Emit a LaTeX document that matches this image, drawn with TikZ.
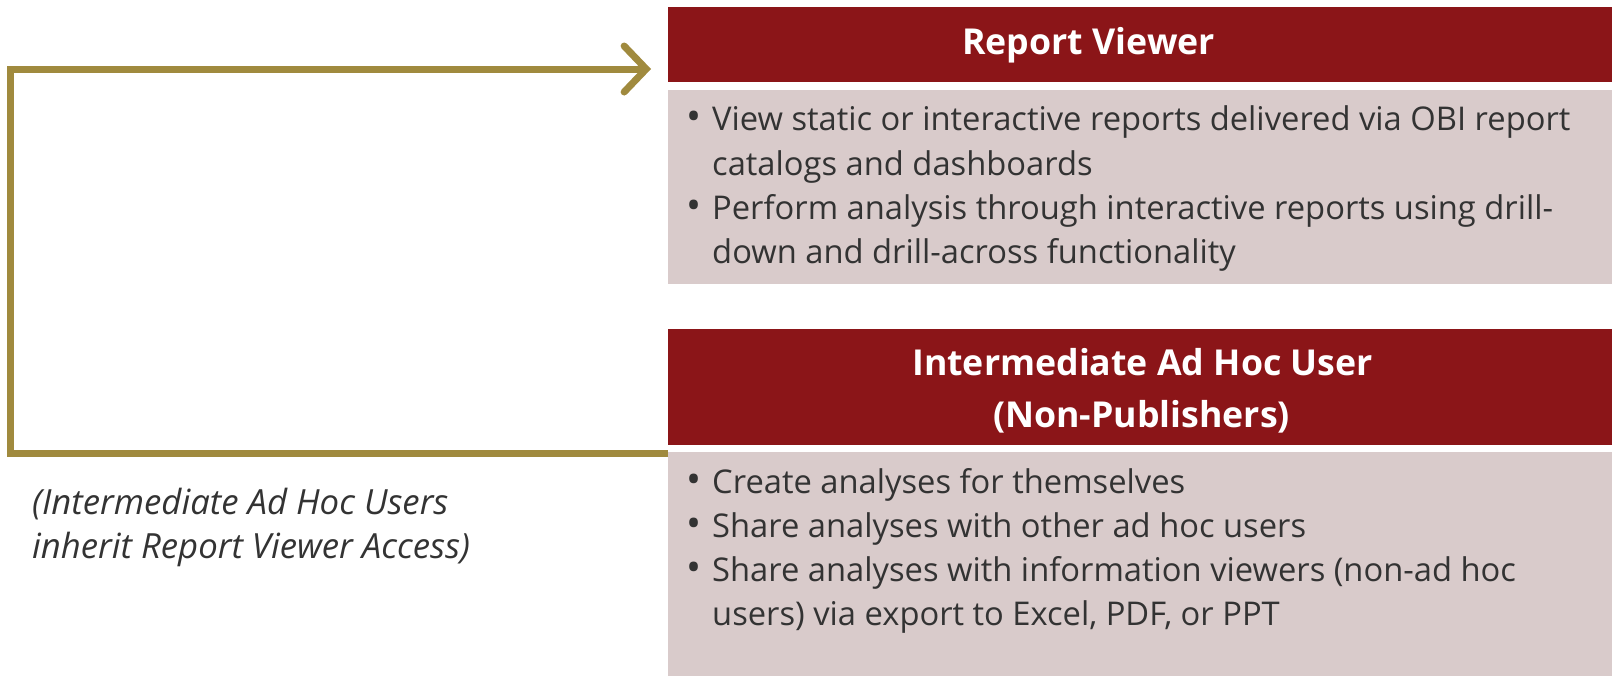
\documentclass[tikz,border=0pt]{standalone}
\usepackage{fontspec}
\setmainfont{Open Sans}
\usetikzlibrary{arrows.meta}
\definecolor{hdr}{HTML}{8B1518}
\definecolor{bodyc}{HTML}{D9CBCB}
\definecolor{gold}{HTML}{A08A3E}
\definecolor{txt}{HTML}{333333}
\begin{document}
\begin{tikzpicture}[x=1pt,y=-1pt,
  hdrbox/.style={fill=hdr, draw=none, anchor=north west, inner sep=0pt, minimum width=944pt},
  bodybox/.style={fill=bodyc, draw=none, anchor=north west, inner sep=0pt, minimum width=944pt},
  hdrtext/.style={text=white, font=\fontsize{35.7}{52}\selectfont\bfseries, inner sep=0pt, anchor=base west},
  bline/.style={text=txt, font=\fontsize{32.7}{44}\selectfont, inner sep=0pt, anchor=base west},
  bullet/.style={text=txt, font=\fontsize{40}{44}\selectfont, inner sep=0pt, anchor=base west},
  note/.style={text=txt, font=\fontsize{34.7}{44}\selectfont\itshape, inner sep=0pt, anchor=base west},
  conn/.style={draw=gold, line width=7pt},
]
\useasboundingbox (0,0) rectangle (1614,678);
% boxes
\node[hdrbox, minimum height=75pt] (h1) at (668,7) {};
\node[bodybox, minimum height=194pt] (b1) at (668,90) {};
\node[hdrbox, minimum height=116pt] (h2) at (668,329) {};
\node[bodybox, minimum height=224pt] (b2) at (668,452) {};
% header texts
\node[hdrtext] (t1) at (962,54) {Report Viewer};
\node[hdrtext] (t2a) at (912,375) {Intermediate Ad Hoc User};
\node[hdrtext] (t2b) at (993,427) {(Non-Publishers)};
% body 1
\node[bullet] (u1) at (686,130) {•};
\node[bline] (l1) at (712,130) {View static or interactive reports delivered via OBI report};
\node[bline] (l2) at (712,175) {catalogs and dashboards};
\node[bullet] (u2) at (686,219) {•};
\node[bline] (l3) at (712,219) {Perform analysis through interactive reports using drill-};
\node[bline] (l4) at (712,263) {down and drill-across functionality};
% body 2
\node[bullet] (u3) at (686,493) {•};
\node[bline] (m1) at (712,493) {Create analyses for themselves};
\node[bullet] (u4) at (686,537) {•};
\node[bline] (m2) at (712,537) {Share analyses with other ad hoc users};
\node[bullet] (u5) at (686,581) {•};
\node[bline] (m3) at (712,581) {Share analyses with information viewers (non-ad hoc};
\node[bline] (m4) at (712,625) {users) via export to Excel, PDF, or PPT};
% note
\node[note] (n1) at (32,514) {(Intermediate Ad Hoc Users};
\node[note] (n2) at (32,558) {inherit Report Viewer Access)};
% connector
\coordinate (start) at (668,453);
\coordinate (corner) at (10.5,69);
\coordinate (tip) at (651,69);
\draw[conn, -{Straight Barb[length=22pt,width=46pt,line cap=round]}] (start) -| (corner) -- (tip);
\end{tikzpicture}
\end{document}
